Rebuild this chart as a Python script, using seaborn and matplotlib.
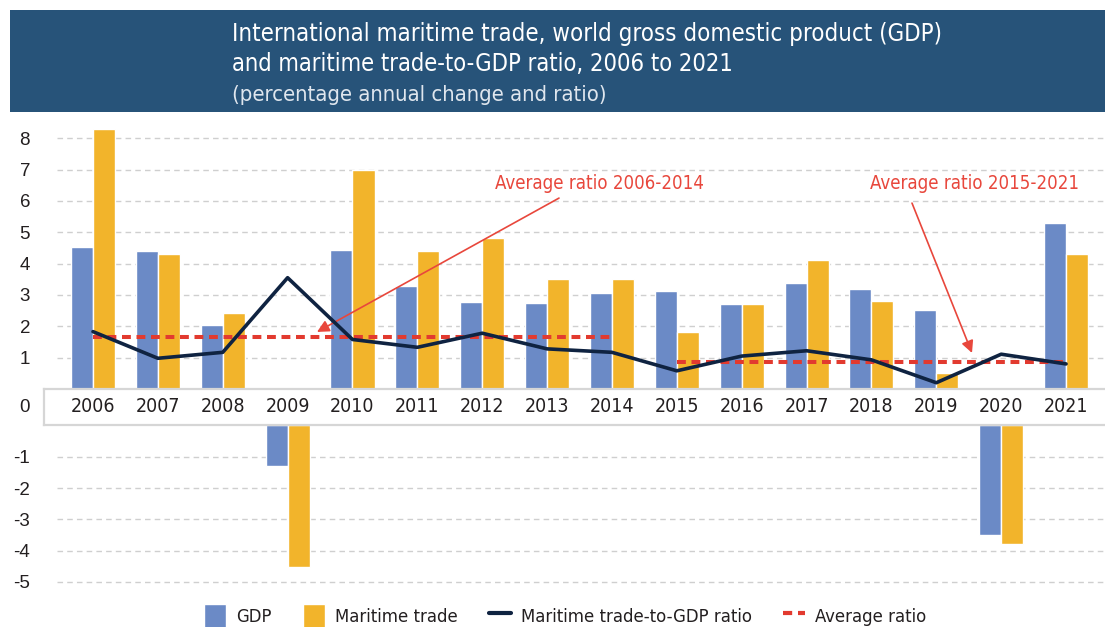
import matplotlib
matplotlib.use("Agg")
import matplotlib.pyplot as plt
import matplotlib.transforms as mtransforms
from matplotlib import font_manager as fm
from matplotlib.patches import Patch, Rectangle
from matplotlib.lines import Line2D
import numpy as np
import pandas as pd
import seaborn as sns

# ---- data -------------------------------------------------------------
years = list(range(2006, 2022))
gdp = [4.52, 4.40, 2.03, -1.29, 4.43, 3.28, 2.77, 2.73,
       3.05, 3.12, 2.70, 3.37, 3.18, 2.51, -3.51, 5.30]
maritime_trade = [8.29, 4.31, 2.41, -4.51, 7.00, 4.40, 4.81, 3.51,
                  3.51, 1.81, 2.70, 4.11, 2.80, 0.50, -3.78, 4.30]
trade_to_gdp = [1.83, 0.98, 1.17, 3.55, 1.58, 1.33, 1.78, 1.28,
                1.17, 0.58, 1.05, 1.22, 0.93, 0.20, 1.11, 0.80]
avg_periods = [(2006, 2014), (2015, 2021)]
avg_ratios = [1.67, 0.85]
avg_labels = ["Average ratio 2006-2014", "Average ratio 2015-2021"]
series_names = ["GDP", "Maritime trade"]
legend_labels = ["GDP", "Maritime trade", "Maritime trade-to-GDP ratio", "Average ratio"]
pos_ticks = [1, 2, 3, 4, 5, 6, 7, 8]
neg_ticks = [-1, -2, -3, -4, -5]

# ---- style ------------------------------------------------------------
BLUE = "#6b8ac6"
GOLD = "#f2b42b"
NAVY = "#0f2341"
RED = "#e23a2f"
NOTE_RED = "#e8473c"
HEADER = "#275379"
GRID = "#cfcfcf"
TEXT = "#231f20"

sns.set_theme(style="white")
plt.rcParams["font.family"] = ["Liberation Sans", "DejaVu Sans"]


def narrow_font():
    """Pick a condensed sans face if one is installed (size factor relative
    to DejaVu Sans Condensed)."""
    fonts = fm.fontManager.ttflist
    for f in fonts:
        if (f.name == "DejaVu Sans" and f.stretch in ("condensed", 300, "semi-condensed")
                and f.style == "normal" and f.weight in (400, "normal")):
            return f.fname, 1.0
    for f in fonts:
        if f.name == "Liberation Sans Narrow" and f.style == "normal" and f.weight in (400, "normal"):
            return f.fname, 1.05
    return None, 0.9


_fname, SCALE = narrow_font()


def nfont(size):
    if _fname:
        return fm.FontProperties(fname=_fname, size=size * SCALE)
    return fm.FontProperties(family=["Liberation Sans", "DejaVu Sans"], size=size * SCALE)


W, H = 1105, 627


def box(left, top, right, bottom):
    return [left / W, 1 - bottom / H, (right - left) / W, (bottom - top) / H]


fig = plt.figure(figsize=(W / 100, H / 100), dpi=100)

# header banner
fig.patches.append(Rectangle((10 / W, 1 - 112 / H), 1.0, 102 / H,
                             transform=fig.transFigure, facecolor=HEADER,
                             edgecolor="none", zorder=0))
fig.text(232 / W, 1 - 41 / H,
         "International maritime trade, world gross domestic product (GDP)",
         color="white", fontproperties=nfont(17.2), va="baseline")
fig.text(232 / W, 1 - 71 / H, "and maritime trade-to-GDP ratio, 2006 to 2021",
         color="white", fontproperties=nfont(17.0), va="baseline")
fig.text(232 / W, 1 - 101 / H, "(percentage annual change and ratio)",
         color="#dfe6ee", fontproperties=nfont(15.8), va="baseline")

# category geometry: 2006 centred at x=93px, 64.87px per year
x0_px, step_px = 93, 64.87


def xdata(px):
    return 2006 + (px - x0_px) / step_px


ax_top = fig.add_axes(box(57, 119.4, 1105, 389))
ax_bot = fig.add_axes(box(57, 425.4, 1105, 597.6))
ax_mid = fig.add_axes(box(44, 388.5, 1115, 425.4))

df = pd.DataFrame({
    "year": years * 2,
    "change": gdp + maritime_trade,
    "series": [series_names[0]] * len(years) + [series_names[1]] * len(years),
})

for ax, lim, ticks in ((ax_top, (0, 8.6), pos_ticks), (ax_bot, (-5.5, 0), neg_ticks)):
    sns.barplot(data=df, x="year", y="change", hue="series",
                palette=[BLUE, GOLD], native_scale=True, width=0.68, gap=0,
                saturation=1, errorbar=None, legend=False, ax=ax)
    ax.set_xlim(xdata(57), xdata(1105))
    ax.set_ylim(*lim)
    ax.set_yticks(ticks)
    ax.set_yticklabels([str(t) for t in ticks])
    ax.set_xticks([])
    ax.set_xlabel("")
    ax.set_ylabel("")
    ax.tick_params(axis="y", length=0, pad=19.4, labelsize=13.5, labelcolor=TEXT)
    ax.yaxis.grid(True, color=GRID, linestyle=(0, (4, 3)), linewidth=1)
    ax.set_axisbelow(True)
    for s in ax.spines.values():
        s.set_visible(False)
    ax.patch.set_alpha(0)

# ratio line and period averages
sns.lineplot(x=years, y=trade_to_gdp, color=NAVY, linewidth=2.6, ax=ax_top,
             zorder=4)
for (y0, y1), val in zip(avg_periods, avg_ratios):
    ax_top.plot([y0, y1], [val, val], color=RED, linewidth=2.9,
                linestyle=(0, (2.2, 1.4)), zorder=3, solid_capstyle="butt")
ax_top.set_xlim(xdata(57), xdata(1105))
ax_top.set_ylim(0, 8.6)

# annotations
notes = [
    ((xdata(599), 6.57), (xdata(559), 6.09), (xdata(317), 1.82)),
    ((xdata(975), 6.57), (xdata(912), 5.93), (xdata(972), 1.15)),
]
for label, (txt_xy, start, tip) in zip(avg_labels, notes):
    ax_top.text(*txt_xy, label, color=NOTE_RED, fontproperties=nfont(13.4),
                ha="center", va="center")
    ax_top.annotate("", xy=tip, xytext=start,
                    arrowprops=dict(arrowstyle="-|>", color=NOTE_RED, lw=1.2,
                                    mutation_scale=18, shrinkA=0, shrinkB=0))

# band with year labels
ax_mid.set_xlim(xdata(44), xdata(1115))
ax_mid.set_ylim(0, 1)
ax_mid.set_xticks([])
ax_mid.set_yticks([])
ax_mid.set_facecolor("white")
for s in ax_mid.spines.values():
    s.set_color("#d6d6d6")
    s.set_linewidth(1.6)
trans = mtransforms.blended_transform_factory(ax_mid.transData, ax_mid.transAxes)
for yr in years:
    ax_mid.text(yr, 0.5, str(yr), transform=trans, ha="center", va="center",
                fontproperties=nfont(14.0), color=TEXT)
fig.text(30 / W, 1 - 407 / H, "0", ha="right", va="center", fontsize=13.5,
         color=TEXT)

# legend
handles = [Patch(facecolor=BLUE), Patch(facecolor=GOLD),
           Line2D([], [], color=NAVY, linewidth=3),
           Line2D([], [], color=RED, linewidth=3, linestyle=(0, (2.2, 1.4)))]
fig.legend(handles, legend_labels, loc="center",
           bbox_to_anchor=(565 / W, 1 - 616 / H), ncol=4, frameon=False,
           prop=nfont(13.2), handlelength=1.2, handleheight=1.6,
           handletextpad=0.55, columnspacing=1.7, borderpad=0, labelcolor=TEXT)

fig.savefig("out.png", dpi=100)
